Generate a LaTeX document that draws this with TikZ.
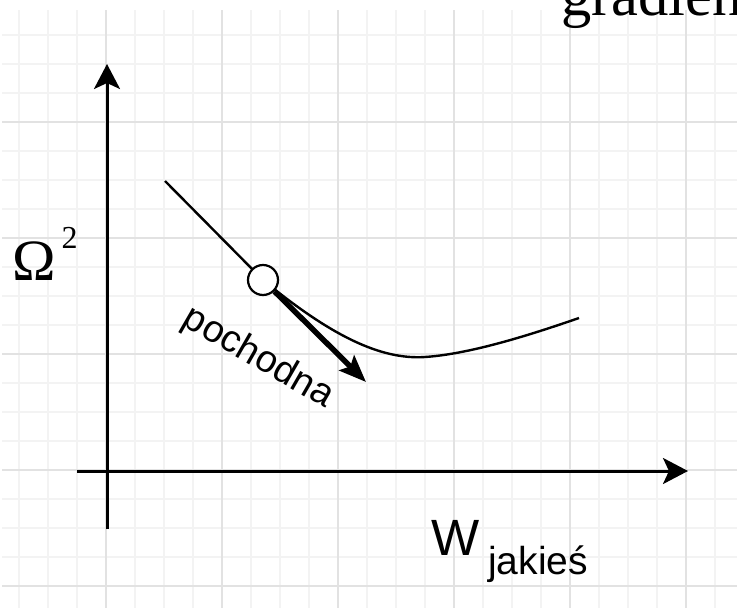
\documentclass[tikz,border=0pt]{standalone}
\usepackage{fontspec}
\setmainfont{Liberation Serif}
\setsansfont{Liberation Sans}
\usepackage{xcolor}
\usetikzlibrary{arrows.meta, positioning}
\definecolor{gridmajor}{RGB}{226,226,226}
\definecolor{gridminor}{RGB}{243,243,243}
\tikzset{
  minorline/.style={draw=gridminor, line width=1.5pt},
  majorline/.style={draw=gridmajor, line width=1.5pt},
  axisarrow/.style={
    -{Stealth[length=25pt, width=26pt, inset=6pt]},
    line width=3pt, color=black
  },
  derivarrow/.style={
    -{Stealth[length=27pt, width=21pt, inset=5pt]},
    line width=5.5pt, color=black
  },
  pointmark/.style={
    circle, draw, line width=2.2pt, fill=white,
    minimum size=30pt, inner sep=0pt
  },
  seriflabel/.style={font=\fontsize{58.5}{60}\selectfont, inner sep=0pt},
  sanslabel/.style={inner sep=0pt},
}

\begin{document}
\begin{tikzpicture}[x=1pt, y=-1pt]
  \useasboundingbox (0,0) rectangle (737,608);
  % grid
  \foreach \gx in {-3,...,22}
    \draw[minorline] (106+29*\gx,10) -- (106+29*\gx,608);
  \foreach \gy in {-4,...,15}
    \draw[minorline] (2,470-29*\gy) -- (737,470-29*\gy);
  \foreach \gx in {0,...,5}
    \draw[majorline] (106+116*\gx,10) -- (106+116*\gx,608);
  \foreach \gy in {-1,...,3}
    \draw[majorline] (2,470-116*\gy) -- (737,470-116*\gy);

  % axes
  \coordinate (yfoot) at (107,529);
  \coordinate (ytop)  at (107,64);
  \coordinate (xfoot) at (77,471);
  \coordinate (xtip)  at (688,471);
  \draw[axisarrow] (yfoot) -- (ytop);
  \draw[axisarrow] (xfoot) -- (xtip);

  % curve and point
  \draw[line width=2.4pt] (165,181) -- (263,280)
    .. controls (330,335) and (380,360) .. (425,357)
    .. controls (470,354) and (530,335) .. (579,318);
  \node[pointmark] (pt) at (263,280) {};
  \coordinate (dtip) at (366,382);
  \draw[derivarrow] (pt) -- (dtip);

  % labels
  \node[seriflabel, anchor=base west] (omega) at (12,280)
        {Ω\hspace{6pt}\raisebox{32pt}{\fontsize{32}{34}\selectfont 2}};
  \node[sanslabel, anchor=base west, font=\sffamily\fontsize{51}{53}\selectfont]
        (wlab) at (431,555) {W};
  \node[sanslabel, anchor=base west, font=\sffamily\fontsize{39}{41}\selectfont]
        (wsub) at (488,574) {jakieś};
  \node[sanslabel, rotate=-30, font=\sffamily\fontsize{38}{40}\selectfont]
        (deriv) at (258,358) {pochodna};
  \node[seriflabel, anchor=base west, font=\fontsize{60.5}{62}\selectfont]
        (grad) at (561,15) {gradient};
\end{tikzpicture}
\end{document}
